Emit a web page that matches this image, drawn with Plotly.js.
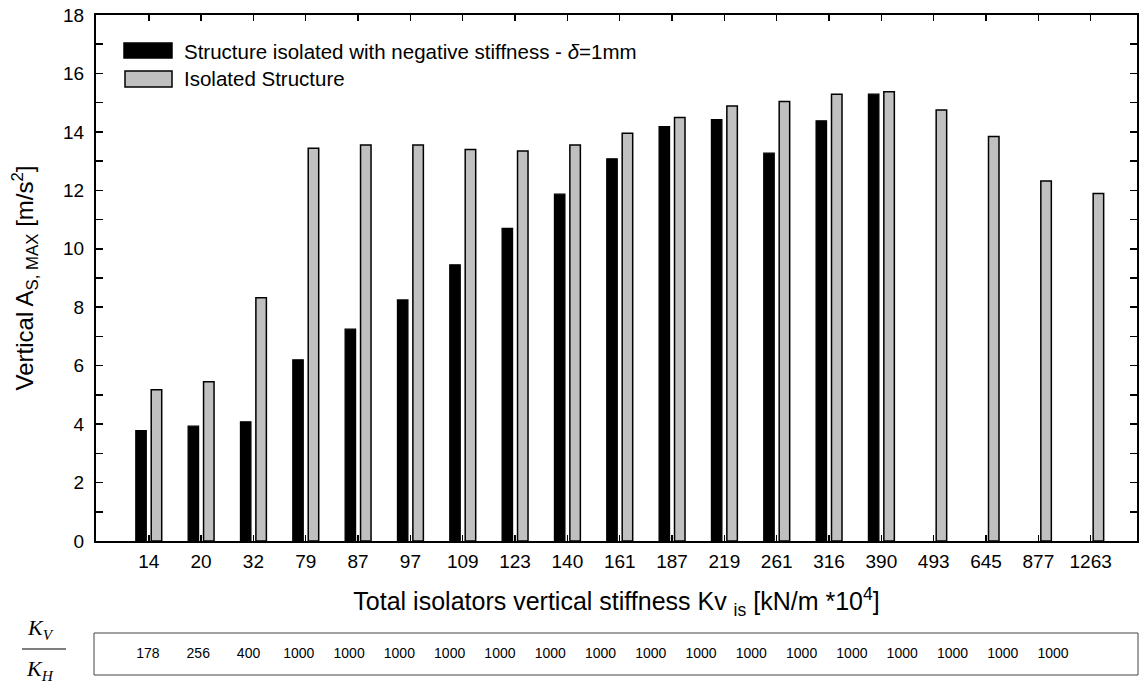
<!DOCTYPE html>
<html>
<head>
<meta charset="utf-8">
<script src="https://cdn.plot.ly/plotly-3.0.1.min.js"></script>
<style>
  html, body { margin: 0; padding: 0; background: #fff; }
  #chart { width: 1142px; height: 690px; }
</style>
</head>
<body>
<div id="chart"></div>
<script>
// ---- data ----
const stiffness = ["14","20","32","79","87","97","109","123","140","161","187","219","261","316","390","493","645","877","1263"];
const negStiffness = [3.78, 3.93, 4.08, 6.2, 7.25, 8.25, 9.45, 10.7, 11.87, 13.08, 14.18, 14.42, 13.27, 14.38, 15.29, null, null, null, null];
const isolated = [5.18, 5.45, 8.32, 13.44, 13.55, 13.55, 13.4, 13.35, 13.55, 13.95, 14.49, 14.89, 15.04, 15.29, 15.37, 14.75, 13.84, 12.32, 11.89];
const ratioKvKh = ["178","256","400","1000","1000","1000","1000","1000","1000","1000","1000","1000","1000","1000","1000","1000","1000","1000","1000"];
const legendNames = ["Structure isolated with negative stiffness - <i>δ</i>=1mm", "Isolated Structure"];
const yTicks = [0, 2, 4, 6, 8, 10, 12, 14, 16, 18];

const FONT = "Liberation Sans, Arial, sans-serif";
const SERIF = "Liberation Serif, Times New Roman, serif";

const traces = [
  {
    type: "bar", x: stiffness, y: negStiffness, name: legendNames[0],
    marker: { color: "#000000", line: { color: "#000000", width: 1.2 } },
    showlegend: false, hoverinfo: "x+y"
  },
  {
    type: "bar", x: stiffness, y: isolated, name: legendNames[1],
    marker: { color: "#c0c0c0", line: { color: "#000000", width: 1.5 } },
    showlegend: false, hoverinfo: "x+y"
  },
  {
    type: "scatter", mode: "text", xaxis: "x2", yaxis: "y2",
    x: stiffness, y: stiffness.map(() => 0), text: ratioKvKh,
    textfont: { family: FONT, size: 14, color: "#000" },
    textposition: "middle center", showlegend: false, hoverinfo: "skip"
  }
];

const mainBottom = (690 - 541) / 675;

const layout = {
  width: 1142, height: 690,
  margin: { l: 96, r: 5, t: 15, b: 0 },
  paper_bgcolor: "#ffffff", plot_bgcolor: "#ffffff",
  font: { family: FONT, color: "#000" },
  barmode: "group",
  bargap: 0.41,
  bargroupgap: 0.32,
  showlegend: false,
  xaxis: {
    type: "category",
    domain: [0, 1],
    range: [-1.008, 18.885],
    anchor: "y",
    showline: true, linecolor: "#000", linewidth: 2, mirror: "ticks",
    ticks: "inside", ticklen: 6, tickwidth: 1.5, tickcolor: "#000",
    tickfont: { family: FONT, size: 19, color: "#000" },
    ticklabelstandoff: 2,
    showgrid: false, zeroline: false,
    title: { text: "Total isolators vertical stiffness Kv <sub>is</sub> [kN/m *10<sup>4</sup>]", font: { family: FONT, size: 25, color: "#000" }, standoff: 22 },
    fixedrange: true
  },
  yaxis: {
    domain: [mainBottom, 1],
    range: [0, 18],
    anchor: "x",
    tickvals: yTicks,
    showline: true, linecolor: "#000", linewidth: 2, mirror: "ticks",
    ticks: "inside", ticklen: 7, tickwidth: 1.5, tickcolor: "#000",
    minor: { dtick: 1, ticks: "inside", ticklen: 7, tickwidth: 1.5, tickcolor: "#000", showgrid: false },
    tickfont: { family: FONT, size: 19, color: "#000" },
    ticklabelstandoff: 6,
    showgrid: false, zeroline: false,
    title: { text: "Vertical A<sub>S, MAX</sub> [m/s<sup>2</sup>]", font: { family: FONT, size: 24, color: "#000" }, standoff: 23 },
    fixedrange: true
  },
  xaxis2: {
    type: "category", domain: [0, 1], anchor: "y2",
    range: [-1.034, 19.67],
    visible: false, fixedrange: true
  },
  yaxis2: {
    domain: [(690 - 675) / 675, (690 - 633) / 675], anchor: "x2",
    range: [-1, 1], visible: false, fixedrange: true
  },
  shapes: [
    // legend swatches
    { type: "rect", xref: "paper", yref: "paper",
      x0: (124 - 96) / 1041, x1: (172 - 96) / 1041,
      y0: (690 - 58) / 675, y1: (690 - 43) / 675,
      fillcolor: "#000", line: { color: "#000", width: 1.5 } },
    { type: "rect", xref: "paper", yref: "paper",
      x0: (125 - 96) / 1041, x1: (172 - 96) / 1041,
      y0: (690 - 87) / 675, y1: (690 - 71) / 675,
      fillcolor: "#c0c0c0", line: { color: "#000", width: 1.5 } },
    // table box
    { type: "rect", xref: "paper", yref: "paper",
      x0: (94 - 96) / 1041, x1: (1138 - 96) / 1041,
      y0: (690 - 675) / 675, y1: (690 - 633) / 675,
      fillcolor: "rgba(0,0,0,0)", line: { color: "#444", width: 1 } },
    // fraction bar
    { type: "line", xref: "paper", yref: "paper",
      x0: (22 - 96) / 1041, x1: (66 - 96) / 1041,
      y0: (690 - 649) / 675, y1: (690 - 649) / 675,
      line: { color: "#000", width: 1.2 } }
  ],
  annotations: [
    { xref: "paper", yref: "paper", x: (182 - 96) / 1041, y: (690 - 51) / 675,
      xanchor: "left", yanchor: "middle", showarrow: false,
      text: legendNames[0], font: { family: FONT, size: 20.5, color: "#000" } },
    { xref: "paper", yref: "paper", x: (182 - 96) / 1041, y: (690 - 79) / 675,
      xanchor: "left", yanchor: "middle", showarrow: false,
      text: legendNames[1], font: { family: FONT, size: 20.5, color: "#000" } },
    { xref: "paper", yref: "paper", x: (40 - 96) / 1041, y: (690 - 629) / 675,
      xanchor: "center", yanchor: "middle", showarrow: false,
      text: "<i>K<sub>V</sub></i>", font: { family: SERIF, size: 22, color: "#000" } },
    { xref: "paper", yref: "paper", x: (40 - 96) / 1041, y: (690 - 670) / 675,
      xanchor: "center", yanchor: "middle", showarrow: false,
      text: "<i>K<sub>H</sub></i>", font: { family: SERIF, size: 22, color: "#000" } }
  ]
};

Plotly.newPlot("chart", traces, layout, { displayModeBar: false, staticPlot: true });
</script>
</body>
</html>
